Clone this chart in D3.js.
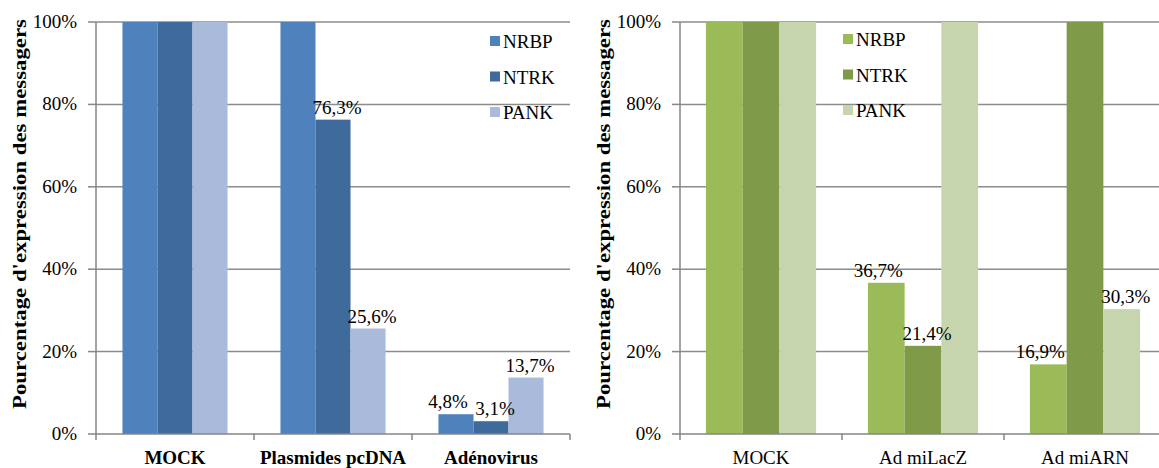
<!doctype html>
<html>
<head>
<meta charset="utf-8">
<title>Expression des messagers</title>
<script src="https://cdn.jsdelivr.net/npm/d3@7"></script>
<style>
  body { margin: 0; background: #fff; }
  svg text { font-family: "Times New Roman", Times, "Liberation Serif", "DejaVu Serif", serif; }
</style>
</head>
<body>
<svg width="1159" height="468"></svg>
<script>
// --- données ---
var series = ["NRBP", "NTRK", "PANK"];
var yTicks = [0, 20, 40, 60, 80, 100];

var leftCategories = ["MOCK", "Plasmides pcDNA", "Adénovirus"];
var leftNRBP = [100, 100, 4.8];
var leftNTRK = [100, 76.3, 3.1];
var leftPANK = [100, 25.6, 13.7];

var rightCategories = ["MOCK", "Ad miLacZ", "Ad miARN"];
var rightNRBP = [100, 36.7, 16.9];
var rightNTRK = [100, 21.4, 100];
var rightPANK = [100, 100, 30.3];

var yTitle = "Pourcentage d'expression des messagers";

var svg = d3.select("svg");
var fr = d3.format(".1f");
function pct(v) { return fr(v).replace(".", ",") + "%"; }

function drawPanel(cfg) {
    var g = svg.append("g");
    var values = [cfg.a, cfg.b, cfg.c];

    var y = d3.scaleLinear().domain([0, 100]).range([434, 22]);
    var x0 = d3.scaleBand().domain(cfg.cats).range([cfg.left, cfg.right])
        .paddingInner(cfg.pad).paddingOuter(cfg.pad / 2);
    var x1 = d3.scaleBand().domain(series).range([0, x0.bandwidth()]);
    var color = d3.scaleOrdinal().domain(series).range(cfg.colors);
    var step = x0.step();

    // grille
    g.append("g").selectAll("line").data(yTicks.slice(1)).enter().append("line")
        .attr("x1", cfg.left).attr("x2", cfg.right)
        .attr("y1", function (d) { return y(d); }).attr("y2", function (d) { return y(d); })
        .attr("stroke", "#8c8c8c").attr("stroke-width", 1.5);

    // barres
    var rows = [];
    cfg.cats.forEach(function (c, i) {
        series.forEach(function (s, j) {
            rows.push({ cat: c, s: s, v: values[j][i], j: j });
        });
    });
    g.append("g").selectAll("rect").data(rows).enter().append("rect")
        .attr("x", function (d) { return x0(d.cat) + x1(d.s); })
        .attr("y", function (d) { return y(d.v); })
        .attr("width", x1.bandwidth())
        .attr("height", function (d) { return y(0) - y(d.v); })
        .attr("fill", function (d) { return color(d.s); });

    // axes
    var ax = g.append("g").attr("stroke", "#868686").attr("stroke-width", 1.5);
    ax.append("line").attr("x1", cfg.left).attr("x2", cfg.left).attr("y1", y(100)).attr("y2", y(0) + 6);
    ax.append("line").attr("x1", cfg.left).attr("x2", cfg.right).attr("y1", y(0)).attr("y2", y(0));
    ax.selectAll(".yt").data(yTicks).enter().append("line")
        .attr("x1", cfg.left - 8).attr("x2", cfg.left)
        .attr("y1", function (d) { return y(d); }).attr("y2", function (d) { return y(d); });
    ax.selectAll(".xt").data(d3.range(1, cfg.cats.length + 1)).enter().append("line")
        .attr("x1", function (d) { return cfg.left + d * step; })
        .attr("x2", function (d) { return cfg.left + d * step; })
        .attr("y1", y(0)).attr("y2", y(0) + 6);

    // libellés axe y
    g.append("g").selectAll("text").data(yTicks).enter().append("text")
        .attr("x", cfg.left - 19).attr("y", function (d) { return y(d) + 6; })
        .attr("text-anchor", "end").attr("font-size", 19)
        .text(function (d) { return d + "%"; });

    // libellés axe x
    g.append("g").selectAll("text").data(cfg.cats).enter().append("text")
        .attr("x", function (d) { return x0(d) + x0.bandwidth() / 2; })
        .attr("y", 464).attr("text-anchor", "middle")
        .attr("font-size", 19).attr("font-weight", cfg.boldCats ? "bold" : "normal")
        .text(function (d) { return d; });

    // titre axe y (étiré comme dans l'original)
    g.append("text")
        .attr("transform", "translate(" + (cfg.left - 70) + "," + 214 + ") rotate(-90)")
        .attr("text-anchor", "middle").attr("font-size", 19).attr("font-weight", "bold")
        .attr("textLength", 390).attr("lengthAdjust", "spacingAndGlyphs")
        .text(yTitle);

    // étiquettes de données
    var dx = [-8, 4, 4];
    g.append("g").selectAll("text").data(rows.filter(function (d) { return d.v < 100; }))
        .enter().append("text")
        .attr("x", function (d) { return x0(d.cat) + x1(d.s) + x1.bandwidth() / 2 + dx[d.j]; })
        .attr("y", function (d) { return y(d.v) - 6; })
        .attr("text-anchor", "middle").attr("font-size", 19)
        .text(function (d) { return pct(d.v); });

    // légende
    var lg = g.append("g").attr("transform", "translate(" + cfg.legX + "," + cfg.legY + ")");
    var item = lg.selectAll("g").data(series).enter().append("g")
        .attr("transform", function (d, i) { return "translate(0," + i * 35.5 + ")"; });
    item.append("rect").attr("x", 0).attr("y", -5).attr("width", 10).attr("height", 10)
        .attr("fill", function (d) { return color(d); });
    item.append("text").attr("x", 13).attr("y", 7).attr("font-size", 19)
        .text(function (d) { return d; });
}

drawPanel({
    cats: leftCategories, a: leftNRBP, b: leftNTRK, c: leftPANK,
    left: 96, right: 570, pad: 0.335, boldCats: true,
    colors: ["#4f81bd", "#3f6a9c", "#a9badb"], legX: 490, legY: 41
});
drawPanel({
    cats: rightCategories, a: rightNRBP, b: rightNTRK, c: rightPANK,
    left: 680, right: 1166, pad: 0.32, boldCats: false,
    colors: ["#9bbb59", "#7f9a48", "#c6d5ad"], legX: 843, legY: 39
});
</script>
</body>
</html>
